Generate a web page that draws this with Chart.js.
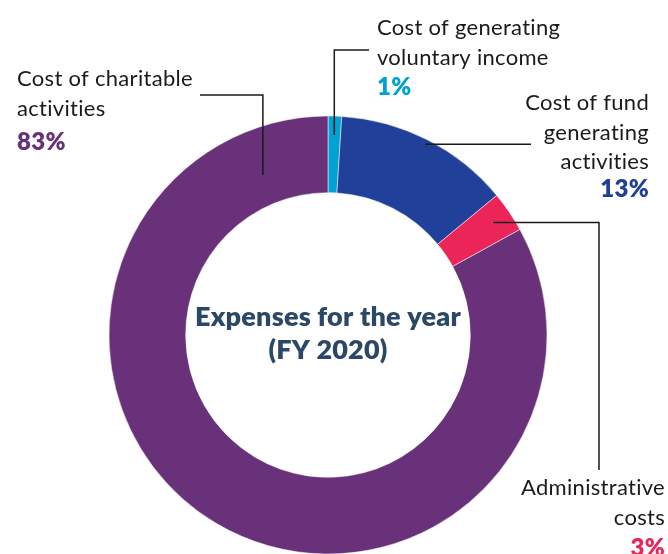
<!DOCTYPE html>
<html lang="en">
<head>
    <meta charset="UTF-8">
    <title>Expenses for the year (FY 2020)</title>
    <script src="https://cdn.jsdelivr.net/npm/chart.js"></script>
    <style>
        html, body { margin: 0; padding: 0; background: #fff; }
        #wrap { position: relative; width: 668px; height: 554px; overflow: hidden; }
    </style>
</head>
<body>
    <div id="wrap"><canvas id="expensesChart" width="668" height="554"></canvas></div>

    <script>
        // data
        const categories = ['Cost of generating voluntary income', 'Cost of fund generating activities', 'Administrative costs', 'Cost of charitable activities'];
        const shares = [1, 13, 3, 83];
        const sliceColors = ['#00a1d3', '#21409a', '#ec2559', '#69317a'];
        const centerTitle = ['Expenses for the year', '(FY 2020)'];

        // callout layout (label text split into lines, where the text sits, how the leader bends)
        const callouts = [
            { lines: ['Cost of generating', 'voluntary income'], x: 377, y: 35, align: 'left', pctY: 95,
              along: 0.5, r: 200, elbow: 'up', bendY: 50, endX: 369 },
            { lines: ['Cost of fund', 'generating', 'activities'], x: 649, y: 110, align: 'right', pctY: 197,
              along: 0.5, r: 214, elbow: 'flat', endX: 531 },
            { lines: ['Administrative', 'costs'], x: 665, y: 495, align: 'right', pctY: 556,
              along: 0.5, r: 200, elbow: 'down', bendX: 599, endY: 470 },
            { lines: ['Cost of charitable', 'activities'], x: 17, y: 86, align: 'left', pctY: 150,
              along: 0.926, r: 173, elbow: 'up', bendY: 95, endX: 200 }
        ];

        const FONT = 'Lato, "Open Sans", sans-serif';

        const calloutPlugin = {
            id: 'callouts',
            afterDraw(chart) {
                const ctx = chart.ctx;
                const arcs = chart.getDatasetMeta(0).data;
                ctx.save();

                // leader lines
                ctx.strokeStyle = '#1a1a1a';
                ctx.lineWidth = 1.5;
                callouts.forEach((c, i) => {
                    const a = arcs[i];
                    const ang = a.startAngle + (a.endAngle - a.startAngle) * c.along;
                    const ax = a.x + Math.cos(ang) * c.r;
                    const ay = a.y + Math.sin(ang) * c.r;
                    ctx.beginPath();
                    ctx.moveTo(ax, ay);
                    if (c.elbow === 'up') {
                        ctx.lineTo(ax, c.bendY);
                        ctx.lineTo(c.endX, c.bendY);
                    } else if (c.elbow === 'down') {
                        ctx.lineTo(c.bendX, ay);
                        ctx.lineTo(c.bendX, c.endY);
                    } else {
                        ctx.lineTo(c.endX, ay);
                    }
                    ctx.stroke();
                });

                // label text; optimizeSpeed turns off Lato's "ti" ligature
                ctx.textRendering = 'optimizeSpeed';
                ctx.textBaseline = 'alphabetic';
                ctx.letterSpacing = '0.3px';
                callouts.forEach((c, i) => {
                    ctx.textAlign = c.align;
                    ctx.fillStyle = '#1a1a1a';
                    ctx.font = '400 22px ' + FONT;
                    c.lines.forEach((ln, k) => ctx.fillText(ln, c.x, c.y + k * 29.5));
                    ctx.fillStyle = sliceColors[i];
                    ctx.font = '800 24px ' + FONT;
                    ctx.fillText(shares[i] + '%', c.x, c.pctY);
                });

                // centre title
                const cx = arcs[0].x, cy = arcs[0].y;
                ctx.textAlign = 'center';
                ctx.fillStyle = '#2b4866';
                ctx.font = '800 27px ' + FONT;
                ctx.letterSpacing = '0.2px';
                ctx.fillText(centerTitle[0], cx, cy - 9);
                ctx.fillText(centerTitle[1], cx, cy + 24);
                ctx.restore();
            }
        };

        const chart = new Chart(document.getElementById('expensesChart'), {
            type: 'doughnut',
            data: {
                labels: categories,
                datasets: [{
                    data: shares,
                    backgroundColor: sliceColors,
                    borderColor: 'rgba(255,255,255,0.5)',
                    borderWidth: 1
                }]
            },
            options: {
                responsive: false,
                animation: false,
                radius: 219,
                cutout: 142,
                layout: { padding: { left: 0, right: 12, top: 116, bottom: 0 } },
                plugins: {
                    legend: { display: false },
                    tooltip: { enabled: false }
                }
            },
            plugins: [calloutPlugin]
        });
    </script>
</body>
</html>
